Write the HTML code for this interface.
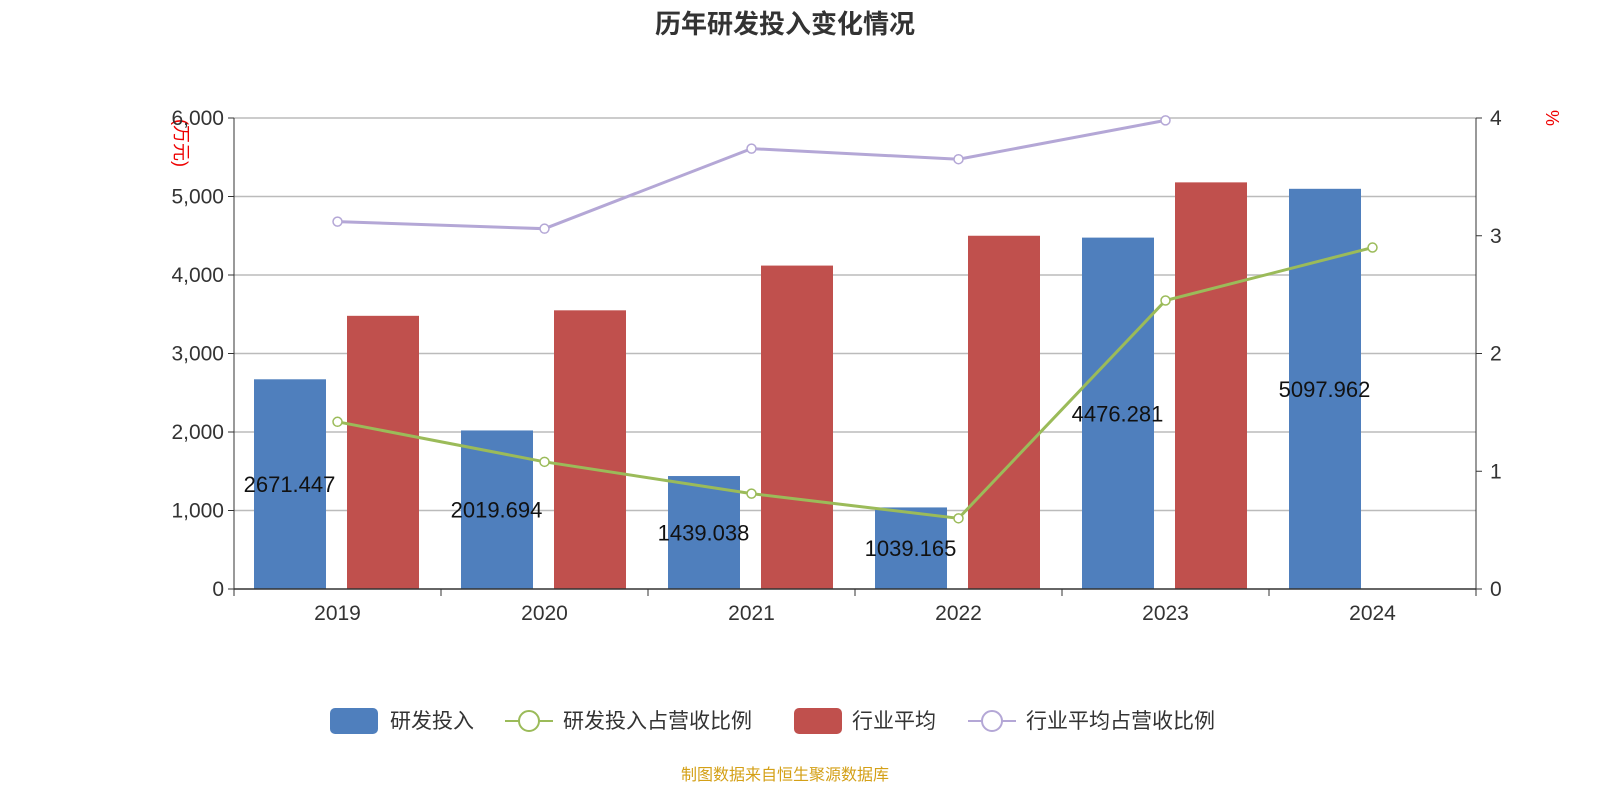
<!DOCTYPE html>
<html><head><meta charset="utf-8"><style>
body{margin:0;background:#fff;font-family:"Liberation Sans","Noto Sans CJK SC",sans-serif;}
svg text{font-family:"Liberation Sans","Noto Sans CJK SC",sans-serif;}
</style></head><body>
<svg id="c" width="1600" height="800">
<text x="785" y="33" text-anchor="middle" font-size="26" font-weight="bold" fill="#333">历年研发投入变化情况</text>
<text transform="translate(175,143) rotate(90)" text-anchor="middle" font-size="18" fill="#e00">(万元)</text>
<text transform="translate(1546,118) rotate(90)" text-anchor="middle" font-size="18" fill="#e00">%</text>
<g id="plot"></g>
<g>
<g><rect x="330" y="708" width="48" height="26" rx="5" fill="#4f7fbd"/><text x="390" y="728" font-size="21" fill="#333">研发投入</text></g>
<g><line x1="505" y1="721" x2="553" y2="721" stroke="#9bbb59" stroke-width="2"/><circle cx="529" cy="721" r="10" fill="#fff" stroke="#9bbb59" stroke-width="2"/><text x="563" y="728" font-size="21" fill="#333">研发投入占营收比例</text></g>
<g><rect x="794" y="708" width="48" height="26" rx="5" fill="#c0504d"/><text x="852" y="728" font-size="21" fill="#333">行业平均</text></g>
<g><line x1="968" y1="721" x2="1016" y2="721" stroke="#b4a7d6" stroke-width="2"/><circle cx="992" cy="721" r="10" fill="#fff" stroke="#b4a7d6" stroke-width="2"/><text x="1026" y="728" font-size="21" fill="#333">行业平均占营收比例</text></g>
</g>
<text x="785" y="780" text-anchor="middle" font-size="16" fill="#d4a017">制图数据来自恒生聚源数据库</text>
</svg>
<script>
const categories=["2019","2020","2021","2022","2023","2024"];
const rdInput=[2671.447,2019.694,1439.038,1039.165,4476.281,5097.962];
const industryAvg=[3480,3550,4120,4500,5180,null];
const rdRatio=[1.42,1.08,0.81,0.60,2.45,2.90];
const industryRatio=[3.12,3.06,3.74,3.65,3.98,null];
const leftTicks=[0,1000,2000,3000,4000,5000,6000];
const leftTickLabels=["0","1,000","2,000","3,000","4,000","5,000","6,000"];
const rightTicks=[0,1,2,3,4];
const NS="http://www.w3.org/2000/svg";
const g=document.getElementById('plot');
const X0=234,X1=1476,Y0=589,Y1=118,bw=(X1-X0)/categories.length;
const yL=v=>Y0-(v/6000)*(Y0-Y1);
const yR=v=>Y0-(v/4)*(Y0-Y1);
function mk(t,a,txt){const e=document.createElementNS(NS,t);for(const k in a)e.setAttribute(k,a[k]);if(txt!==undefined)e.textContent=txt;g.appendChild(e);return e;}
leftTicks.forEach((v,i)=>{
 const y=yL(v);
 if(v>0){const l=mk('line',{x1:X0,x2:X1,y1:y,y2:y,stroke:'#bbb','stroke-width':1.5});}
 const t=mk('text',{x:X0-10,y:y+7,'text-anchor':'end','font-size':21,fill:'#333'},leftTickLabels[i]);
 
 mk('line',{x1:X0-6,x2:X0,y1:y,y2:y,stroke:'#333'});
});
rightTicks.forEach(v=>{
 const y=yR(v);
 const t=mk('text',{x:X1+14,y:y+7,'font-size':21,fill:'#333'},String(v));
 
 mk('line',{x1:X1,x2:X1+6,y1:y,y2:y,stroke:'#333'});
});
mk('line',{x1:X0,x2:X0,y1:Y1,y2:Y0,stroke:'#333'});
mk('line',{x1:X1,x2:X1,y1:Y1,y2:Y0,stroke:'#333'});
categories.forEach((c,i)=>{
 const x=X0+i*bw;
 const b=mk('rect',{x:x+20,y:yL(rdInput[i]),width:72,height:Y0-yL(rdInput[i]),fill:'#4f7fbd'});
 
 if(industryAvg[i]!=null){const r=mk('rect',{x:x+113,y:yL(industryAvg[i]),width:72,height:Y0-yL(industryAvg[i]),fill:'#c0504d'});
 }
 const t=mk('text',{x:x+bw/2,y:Y0+31,'text-anchor':'middle','font-size':21,fill:'#333'},c);
 
 mk('line',{x1:x,x2:x,y1:Y0,y2:Y0+7,stroke:'#333'});
});
mk('line',{x1:X1,x2:X1,y1:Y0,y2:Y0+7,stroke:'#333'});
mk('line',{x1:X0,x2:X1,y1:Y0,y2:Y0,stroke:'#333','stroke-width':1.5});
function line(vals,color,name){
 const pts=[];vals.forEach((v,i)=>{if(v!=null)pts.push([X0+i*bw+bw/2,yR(v)]);});
 const p=mk('polyline',{points:pts.map(p=>p.join(',')).join(' '),fill:'none',stroke:color,'stroke-width':3});
 
 pts.forEach(q=>{const c=mk('circle',{cx:q[0],cy:q[1],r:4.5,fill:'#fff',stroke:color,'stroke-width':1.5});
 });
}
line(industryRatio,'#b4a7d6','industry-ratio');
line(rdRatio,'#9bbb59','rd-ratio');
rdInput.forEach((v,i)=>{
 const t=mk('text',{x:X0+i*bw+bw/2-48,y:(yL(v)+Y0)/2+8,'text-anchor':'middle','font-size':22,fill:'#111'},v.toFixed(3));
 
});
</script>
</body></html>
